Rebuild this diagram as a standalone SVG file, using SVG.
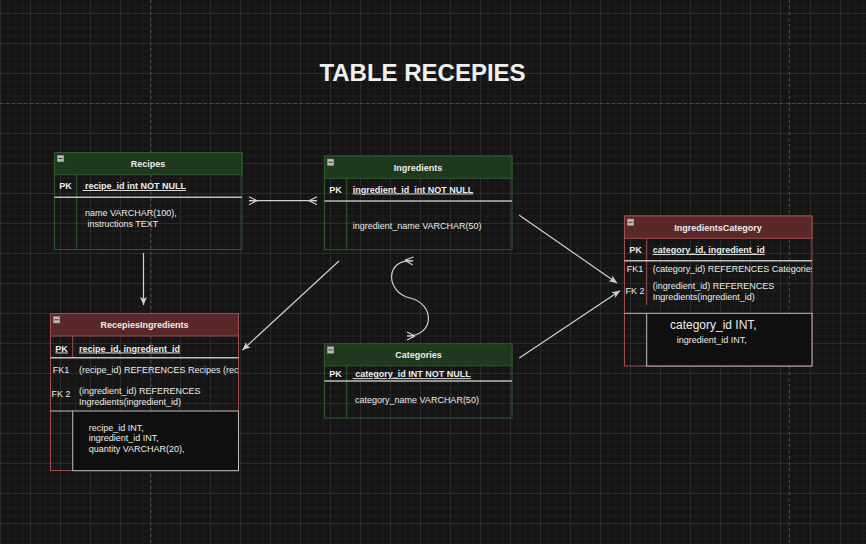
<svg xmlns="http://www.w3.org/2000/svg" width="866" height="544" viewBox="0 0 866 544">
<defs>
<pattern id="grid" width="30" height="30" patternUnits="userSpaceOnUse" x="0" y="13">
<rect width="30" height="30" fill="#151515"/>
<path d="M8 0V30M15.5 0V30M23 0V30M0 8H30M0 15.5H30M0 23H30" stroke="#1d1d1d" stroke-width="1"/>
<path d="M0.5 0V30M0 0.5H30" stroke="#2b2b2b" stroke-width="1"/>
</pattern>
<marker id="arrow" markerUnits="userSpaceOnUse" markerWidth="9" markerHeight="8" refX="8" refY="3.5" orient="auto" overflow="visible">
<path d="M0,0 L8,3.5 L0,7 L2,3.5 Z" fill="#d0d0d0"/>
</marker>
<marker id="many" markerUnits="userSpaceOnUse" markerWidth="9" markerHeight="9" refX="8" refY="4" orient="auto-start-reverse" overflow="visible">
<path d="M0,4 L8,0 M0,4 L8,8 M0,4 L8,4" fill="none" stroke="#d0d0d0" stroke-width="1.2"/>
</marker>
<clipPath id="clipRI"><rect x="50.5" y="313.5" width="188" height="157"/></clipPath>
<clipPath id="clipIC"><rect x="624.5" y="216" width="187.5" height="150"/></clipPath>
</defs>
<style>
.t{font-family:"Liberation Sans",Arial,sans-serif;fill:#ececec;font-size:9px}
.b{font-weight:bold}
.c{text-anchor:middle}
.u{text-decoration:underline}
.gb{fill:none;stroke:#2e5a2e;stroke-width:1}
.gh{fill:#1e391e;stroke:#2e5a2e;stroke-width:1}
.rb{fill:none;stroke:#a24c4c;stroke-width:1}
.rh{fill:#5a2828;stroke:#a24c4c;stroke-width:1}
.sep{stroke:#bdbdbd;stroke-width:1.5}
.gd{stroke:#2e5a2e;stroke-width:1}
.rd{stroke:#a24c4c;stroke-width:1}
.low{fill:#0f0f0f;stroke:#bdbdbd;stroke-width:1}
.icon{fill:#bdbdbd;stroke:#8a8a8a;stroke-width:0.5}
.im{stroke:#333;stroke-width:1}
.conn{fill:none;stroke:#d0d0d0;stroke-width:1.2}
.page{stroke:#4a4a4a;stroke-width:1;stroke-dasharray:3 3}
</style>
<rect width="866" height="544" fill="url(#grid)"/>
<path class="page" d="M151 0V544M789.5 0V544M0 103.5H866"/>

<text class="t b c" x="422.5" y="81" style="font-size:24px;fill:#f0f0f0">TABLE RECEPIES</text>

<g id="connectors">
<path class="conn" d="M249 200.7H317" marker-start="url(#many)" marker-end="url(#many)"/>
<path class="conn" d="M413 261C385 258 385 292 410 298C435 304 435 336 407 336" marker-start="url(#many)" marker-end="url(#many)"/>
<path class="conn" d="M143.5 253V305" marker-end="url(#arrow)"/>
<path class="conn" d="M339 261L242.5 350" marker-end="url(#arrow)"/>
<path class="conn" d="M519 215L617 283" marker-end="url(#arrow)"/>
<path class="conn" d="M519.3 358L620 290.7" marker-end="url(#arrow)"/>
</g>

<g id="recipes">
<rect class="gb" x="54.5" y="152.5" width="187.5" height="97"/>
<rect class="gh" x="54.5" y="152.5" width="187.5" height="22.2"/>
<rect class="icon" x="57.3" y="155.3" width="6.5" height="6.5"/>
<path class="im" d="M58.5 158.55H62.6"/>
<text class="t b c" x="148" y="167.2">Recipes</text>
<path class="gd" d="M76.7 174.7V249.5"/>
<path class="sep" d="M54.5 197.3H242"/>
<text class="t b c" x="65.5" y="189">PK</text>
<text class="t b u" x="82.5" y="189" xml:space="preserve"> recipe_id int NOT NULL</text>
<text class="t" x="85" y="216">name VARCHAR(100),</text>
<text class="t" x="85" y="226.7" xml:space="preserve"> instructions TEXT</text>
</g>

<g id="ingredients">
<rect class="gb" x="324.5" y="156" width="187.5" height="93.7"/>
<rect class="gh" x="324.5" y="156" width="187.5" height="22.3"/>
<rect class="icon" x="327.3" y="159" width="6.5" height="6.5"/>
<path class="im" d="M328.5 162.25H332.6"/>
<text class="t b c" x="418" y="171.2">Ingredients</text>
<path class="gd" d="M346.7 178.3V249.7"/>
<path class="sep" d="M324.5 201H512"/>
<text class="t b c" x="335.5" y="192.5">PK</text>
<text class="t b u" x="352.7" y="192.5" xml:space="preserve">ingredient_id  int NOT NULL</text>
<text class="t" x="352.7" y="229">ingredient_name VARCHAR(50)</text>
</g>

<g id="ingredientsCategory">
<rect class="rb" x="624.5" y="216" width="187.5" height="150"/>
<rect class="rh" x="624.5" y="216" width="187.5" height="22.3"/>
<rect class="icon" x="627.3" y="219" width="6.5" height="6.5"/>
<path class="im" d="M628.5 222.25H632.6"/>
<text class="t b c" x="718" y="231.2">IngredientsCategory</text>
<path class="rd" d="M646.7 238.3V305"/>
<path class="sep" d="M624.5 260.7H812"/>
<text class="t b c" x="635.6" y="253">PK</text>
<text class="t b u" x="652.7" y="253">category_id, ingredient_id</text>
<text class="t c" x="635" y="272">FK1</text>
<text class="t" x="652.7" y="272" clip-path="url(#clipIC)">(category_id) REFERENCES Categories</text>
<text class="t c" x="635" y="294.3">FK 2</text>
<text class="t" x="652.7" y="289">(ingredient_id) REFERENCES</text>
<text class="t" x="652.7" y="299.9">Ingredients(ingredient_id)</text>
<path style="stroke:#bdbdbd;stroke-width:1" d="M624.5 313.3H646.7"/>
<rect class="low" x="646.7" y="313.3" width="165.3" height="52.7"/>
<text class="t" x="670" y="329.3" style="font-size:12px">category_id INT,</text>
<text class="t" x="676.7" y="343.2">ingredient_id INT,</text>
</g>

<g id="recepiesIngredients">
<rect class="rb" x="50.5" y="313.5" width="188" height="157"/>
<rect class="rh" x="50.5" y="313.5" width="188" height="22.5"/>
<rect class="icon" x="53.3" y="316.5" width="6.5" height="6.5"/>
<path class="im" d="M54.5 319.75H58.6"/>
<text class="t b c" x="144.5" y="328.2">RecepiesIngredients</text>
<path class="rd" d="M72.7 336V357.7"/>
<path class="sep" d="M50.5 357.7H238.5"/>
<text class="t b c u" x="61.6" y="351.5">PK</text>
<text class="t b u" x="79" y="351.5">recipe_id, ingredient_id</text>
<text class="t c" x="61" y="373.2">FK1</text>
<text class="t" x="79" y="373.2" clip-path="url(#clipRI)">(recipe_id) REFERENCES Recipes (rec</text>
<text class="t c" x="61" y="396.5">FK 2</text>
<text class="t" x="79" y="394.2">(ingredient_id) REFERENCES</text>
<text class="t" x="79" y="405.2">Ingredients(ingredient_id)</text>
<path style="stroke:#bdbdbd;stroke-width:1" d="M50.5 411H72.7"/>
<rect class="low" x="72.7" y="411" width="165.8" height="59.7"/>
<text class="t" x="88.7" y="430.5">recipe_id INT,</text>
<text class="t" x="88.7" y="440.9">ingredient_id INT,</text>
<text class="t" x="88.7" y="451.5">quantity VARCHAR(20),</text>
</g>

<g id="categories">
<rect class="gb" x="324.5" y="343.7" width="187.5" height="74.3"/>
<rect class="gh" x="324.5" y="343.7" width="187.5" height="22"/>
<rect class="icon" x="327.3" y="346.7" width="6.5" height="6.5"/>
<path class="im" d="M328.5 349.95H332.6"/>
<text class="t b c" x="418.5" y="358.2">Categories</text>
<path class="gd" d="M346.7 365.7V418"/>
<path class="sep" d="M324.5 381H512"/>
<text class="t b c" x="335.5" y="377.2">PK</text>
<text class="t b u" x="352.7" y="377.2" xml:space="preserve"> category_id INT NOT NULL</text>
<text class="t" x="355" y="403.2">category_name VARCHAR(50)</text>
</g>
</svg>
